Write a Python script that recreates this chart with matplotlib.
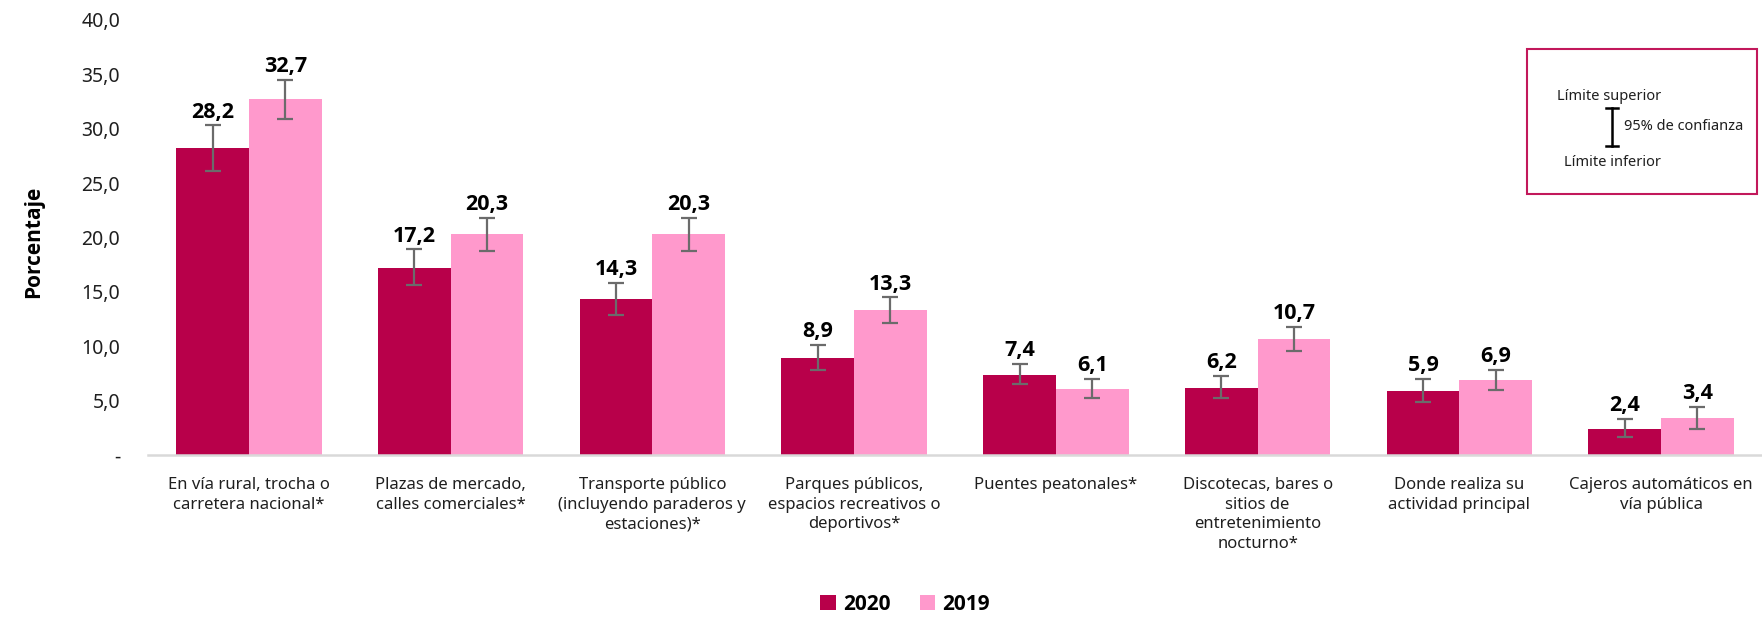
import matplotlib
matplotlib.use("Agg")
import matplotlib.pyplot as plt
import numpy as np
from matplotlib.patches import Rectangle, Patch
from matplotlib.lines import Line2D

plt.rcParams['font.family'] = ['Noto Sans', 'DejaVu Sans']
BOLD_FAM = ['Open Sans', 'DejaVu Sans']

categories = [
    "En vía rural, trocha o\ncarretera nacional*",
    "Plazas de mercado,\ncalles comerciales*",
    "Transporte público\n(incluyendo paraderos y\nestaciones)*",
    "Parques públicos,\nespacios recreativos o\ndeportivos*",
    "Puentes peatonales*",
    "Discotecas, bares o\nsitios de\nentretenimiento\nnocturno*",
    "Donde realiza su\nactividad principal",
    "Cajeros automáticos en\nvía pública",
]
v2020 = [28.2, 17.2, 14.3, 8.9, 7.4, 6.2, 5.9, 2.4]
v2019 = [32.7, 20.3, 20.3, 13.3, 6.1, 10.7, 6.9, 3.4]
lo2020 = [26.1, 15.6, 12.9, 7.8, 6.5, 5.2, 4.9, 1.7]
hi2020 = [30.3, 18.9, 15.8, 10.1, 8.4, 7.3, 7.0, 3.3]
lo2019 = [30.9, 18.8, 18.8, 12.1, 5.2, 9.6, 6.0, 2.4]
hi2019 = [34.5, 21.8, 21.8, 14.5, 7.0, 11.8, 7.8, 4.4]
yticks = [0, 5, 10, 15, 20, 25, 30, 35, 40]
ytick_labels = ["-", "5,0", "10,0", "15,0", "20,0", "25,0", "30,0", "35,0", "40,0"]
series_names = ["2020", "2019"]

c2020 = "#B8004A"
c2019 = "#FF99CC"
err_col = "#6b6b6b"
txt_col = "#1f1f1f"

W, H = 1762, 617
fig = plt.figure(figsize=(W / 100, H / 100), dpi=100)

def fx(px):
    return px / W

def fy(py):
    return 1 - py / H

ax = fig.add_axes([fx(148), fy(455), fx(1762) - fx(148), fy(20) - fy(455)])

x = np.arange(len(categories))
bw = 0.36
off = 0.18

for vals, lo, hi, col, dx in [(v2020, lo2020, hi2020, c2020, -off),
                              (v2019, lo2019, hi2019, c2019, off)]:
    vals = np.array(vals)
    lo = np.array(lo)
    hi = np.array(hi)
    ax.bar(x + dx, vals, width=bw, color=col, zorder=2)
    ax.errorbar(x + dx, vals, yerr=[vals - lo, hi - vals], fmt='none',
                ecolor=err_col, elinewidth=1.6, capsize=6, capthick=1.6, zorder=3)
    for xi, v, h in zip(x + dx, vals, hi):
        ax.annotate(f"{v:.1f}".replace('.', ','), xy=(xi, h), xytext=(0, 2),
                    textcoords='offset points', ha='center', va='bottom',
                    fontsize=15.5, fontweight='bold', family=BOLD_FAM,
                    color='black', zorder=4)

ax.set_xlim(-0.5, len(categories) - 0.5)
ax.set_ylim(0, 40)
ax.set_yticks(yticks)
ax.set_yticklabels(ytick_labels, fontsize=14, color=txt_col)
ax.set_xticks(x)
ax.set_xticklabels(categories, fontsize=12, color=txt_col, linespacing=1.3)
ax.tick_params(axis='y', length=0, pad=20)
ax.tick_params(axis='x', length=0, pad=16)
for s in ['top', 'right', 'left']:
    ax.spines[s].set_visible(False)
ax.spines['bottom'].set_color('#d9d9d9')
ax.spines['bottom'].set_linewidth(1.8)

fig.text(fx(34), fy(242), "Porcentaje", rotation=90, ha='center', va='center',
         fontsize=15, fontweight='bold', family=BOLD_FAM, color='black')

# confidence interval explanation box
fig.patches.append(Rectangle((fx(1527), fy(194)), fx(1757) - fx(1527), fy(49) - fy(194),
                             transform=fig.transFigure, fill=False,
                             edgecolor="#C2185B", linewidth=1.5))
fig.lines.append(Line2D([fx(1612), fx(1612)], [fy(108), fy(146)],
                        transform=fig.transFigure, color='black', linewidth=1.8))
for yy in (108, 146):
    fig.lines.append(Line2D([fx(1606), fx(1618)], [fy(yy), fy(yy)],
                            transform=fig.transFigure, color='black', linewidth=1.8))
fig.text(fx(1609), fy(97), "Límite superior", ha='center', va='center', fontsize=10.5, color=txt_col)
fig.text(fx(1624), fy(127), "95% de confianza", ha='left', va='center', fontsize=10.5, color=txt_col)
fig.text(fx(1613), fy(162), "Límite inferior", ha='center', va='center', fontsize=10.5, color=txt_col)

handles = [Patch(facecolor=c2020, edgecolor='none'), Patch(facecolor=c2019, edgecolor='none')]
fig.legend(handles, series_names, loc='center', bbox_to_anchor=(fx(905), fy(604)),
           ncol=2, frameon=False, prop={'size': 15, 'weight': 'bold', 'family': BOLD_FAM},
           handlelength=0.75, handleheight=0.75, handletextpad=0.35, columnspacing=1.4)

fig.savefig("out.png", dpi=100)
